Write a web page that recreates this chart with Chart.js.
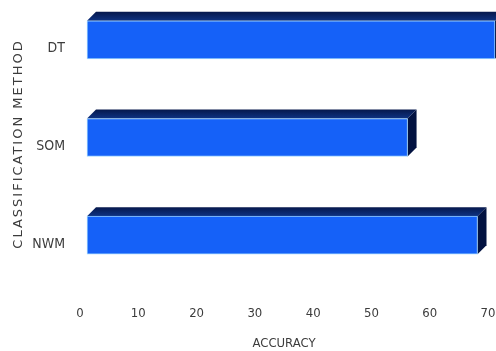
<!DOCTYPE html>
<html>
<head>
<meta charset="utf-8">
<title>Accuracy by classification method</title>
<script src="https://cdn.jsdelivr.net/npm/chart.js@4/dist/chart.umd.min.js"></script>
<style>
  html, body { margin: 0; padding: 0; background: #fff; }
  #wrap { width: 496px; height: 351px; position: relative; }
</style>
</head>
<body>
<div id="wrap"><canvas id="accuracy-chart"></canvas></div>
<script>
// data
const methods = ['DT', 'SOM', 'NWM'];
const accuracy = [70, 55, 67];
const accuracyTicks = [0, 10, 20, 30, 40, 50, 60, 70];
const xTitle = 'ACCURACY';
const yTitle = 'CLASSIFICATION METHOD';

// box colours
const frontColor = '#1561f8';
const edgeColor = 'rgba(140, 205, 255, 0.85)';
const topBack = '#06184c';
const topFront = '#0e3282';
const sideColor = '#021241';
const textColor = '#3c3c3c';
const narrowFont = "'Liberation Sans Narrow', 'DejaVu Sans Condensed', 'Arial Narrow', sans-serif";

const depth = { x: 9, y: 9 };    // box depth (top + side faces)
const shift = { x: 7, y: -9 };   // bars stand a little behind the floor edge

// draws the top and side faces, then leaves the canvas shifted so the
// library draws the front face in the same place
const bar3d = {
    id: 'bar3d',
    beforeDatasetsDraw(chart) {
        const ctx = chart.ctx;
        ctx.save();
        ctx.translate(shift.x, shift.y);
        chart.getDatasetMeta(0).data.forEach(bar => {
            const { x, y, base, height } = bar.getProps(['x', 'y', 'base', 'height'], true);
            const top = y - height / 2;
            const bottom = y + height / 2;

            const g = ctx.createLinearGradient(0, top - depth.y, 0, top);
            g.addColorStop(0, topBack);
            g.addColorStop(1, topFront);
            ctx.fillStyle = g;
            ctx.beginPath();
            ctx.moveTo(base, top);
            ctx.lineTo(base + depth.x, top - depth.y);
            ctx.lineTo(x + depth.x, top - depth.y);
            ctx.lineTo(x, top);
            ctx.closePath();
            ctx.fill();

            ctx.fillStyle = sideColor;
            ctx.beginPath();
            ctx.moveTo(x, top);
            ctx.lineTo(x + depth.x, top - depth.y);
            ctx.lineTo(x + depth.x, bottom - depth.y);
            ctx.lineTo(x, bottom);
            ctx.closePath();
            ctx.fill();
        });
    },
    afterDatasetsDraw(chart) {
        chart.ctx.restore();
    }
};

// vertical axis title, letter-spaced
const yAxisTitle = {
    id: 'yAxisTitle',
    afterDraw(chart) {
        const ctx = chart.ctx;
        ctx.save();
        ctx.translate(19, 144);
        ctx.rotate(-Math.PI / 2);
        ctx.font = "13px 'DejaVu Sans', sans-serif";
        if ('letterSpacing' in ctx) ctx.letterSpacing = '2px';
        ctx.fillStyle = textColor;
        ctx.textAlign = 'center';
        ctx.textBaseline = 'middle';
        ctx.fillText(yTitle, 0, 0);
        ctx.restore();
    }
};

const ctx = document.getElementById('accuracy-chart').getContext('2d');

new Chart(ctx, {
    type: 'bar',
    data: {
        labels: methods,
        datasets: [{
            data: accuracy,
            backgroundColor: frontColor,
            borderColor: edgeColor,
            borderWidth: 1,
            borderSkipped: false,
            barThickness: 38,
            clip: false
        }]
    },
    options: {
        indexAxis: 'y',
        responsive: true,
        maintainAspectRatio: false,
        animation: false,
        layout: { padding: { top: 0, right: 8, bottom: 0, left: 0 } },
        scales: {
            x: {
                min: 0,
                max: 70,
                afterBuildTicks: scale => {
                    scale.ticks = accuracyTicks.map(v => ({ value: v }));
                },
                afterFit: scale => {
                    scale.height = 58;
                    scale.paddingLeft = 0;
                    scale.paddingRight = 0;
                },
                grid: { display: false, drawTicks: false },
                border: { display: false },
                ticks: {
                    padding: 13,
                    color: textColor,
                    font: { family: narrowFont, size: 13 }
                },
                title: {
                    display: true,
                    text: xTitle,
                    color: textColor,
                    padding: { top: 10, bottom: 0 },
                    font: { family: narrowFont, size: 13 }
                }
            },
            y: {
                offset: true,
                afterFit: scale => {
                    scale.width = 80;
                    scale.paddingTop = 0;
                    scale.paddingBottom = 0;
                },
                grid: { display: false, drawTicks: false },
                border: { display: false },
                ticks: {
                    padding: 15,
                    color: textColor,
                    font: { family: narrowFont, size: 14 }
                }
            }
        },
        plugins: {
            legend: { display: false },
            tooltip: { enabled: false }
        }
    },
    plugins: [bar3d, yAxisTitle]
});
</script>
</body>
</html>
